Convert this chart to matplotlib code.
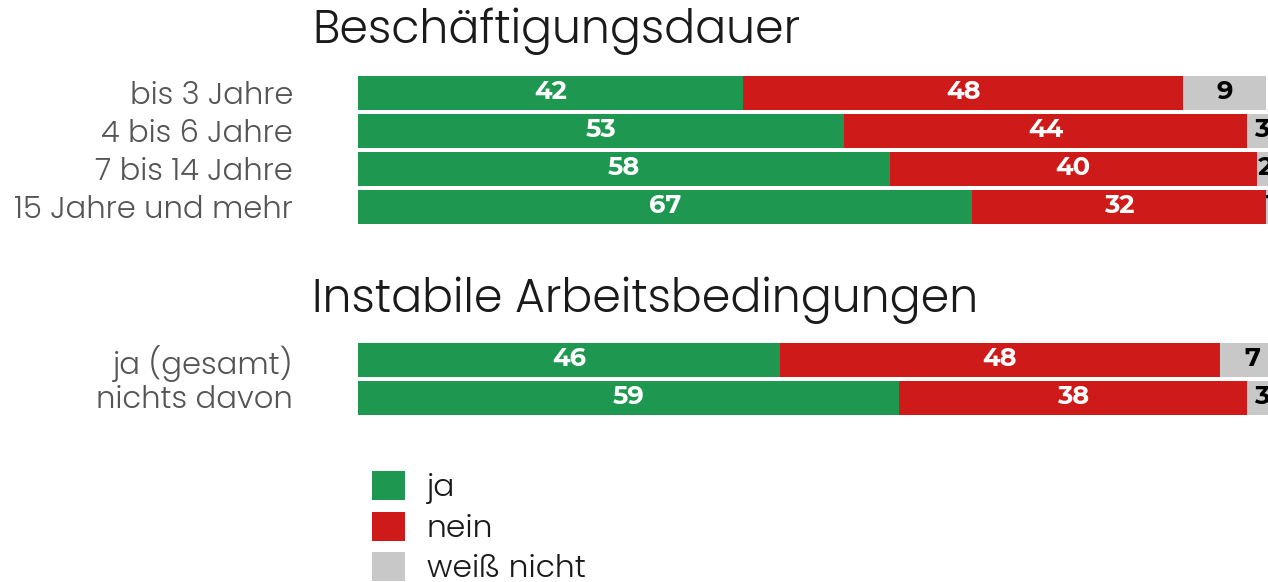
import matplotlib.pyplot as plt
from matplotlib.patches import Patch

# data
groups = ['Beschäftigungsdauer', 'Instabile Arbeitsbedingungen']
categories = [
    ['bis 3 Jahre', '4 bis 6 Jahre', '7 bis 14 Jahre', '15 Jahre und mehr'],
    ['ja (gesamt)', 'nichts davon'],
]
ja = [[42, 53, 58, 67], [46, 59]]
nein = [[48, 44, 40, 32], [48, 38]]
weiss_nicht = [[9, 3, 2, 1], [7, 3]]
series_names = ['ja', 'nein', 'weiß nicht']
colors = ['#1e9850', '#cf1a1a', '#c8c8c8']
text_colors = ['white', 'white', 'black']

W, H = 1268, 582
fig = plt.figure(figsize=(W / 100, H / 100), dpi=100)
ax = fig.add_axes([0, 0, 1, 1])
px_per_unit = 9.17
x0 = 358
ax.set_xlim(-x0 / px_per_unit, (W - x0) / px_per_unit)
ax.set_ylim(H, 0)
ax.axis('off')

font = 'Poppins'
num_font = 'Montserrat Alternates'
group_tops = [93, 360]   # centre of first bar per group (px)
title_y = [31, 300]
pitch = 38
bar_h = 34

for g, name in enumerate(groups):
    ax.text(312 / W, 1 - title_y[g] / H, name, transform=ax.transAxes,
            fontsize=33, family=font, fontweight=300, color='#1a1a1a',
            ha='left', va='center')
    ys = [group_tops[g] + i * pitch for i in range(len(categories[g]))]
    left = [0] * len(ys)
    for s, vals in enumerate([ja[g], nein[g], weiss_nicht[g]]):
        ax.barh(ys, vals, left=left, height=bar_h, color=colors[s], linewidth=0)
        for y, l, v in zip(ys, left, vals):
            ax.text(l + v / 2, y - 1, str(v), ha='center', va='center',
                    fontsize=18.5, family=num_font, fontweight='bold', color=text_colors[s])
        left = [a + b for a, b in zip(left, vals)]
    for y, lab in zip(ys, categories[g]):
        ax.text(293 / W, 1 - (y + 3) / H, lab, transform=ax.transAxes, ha='right', va='center',
                fontsize=22, family=font, fontweight=300, color='#555555')

handles = [Patch(facecolor=c, edgecolor='none') for c in colors]
leg = fig.legend(handles, series_names, loc='upper left',
                 bbox_to_anchor=(372 / W, 1 - 471 / H), frameon=False,
                 prop={'family': font, 'weight': 300, 'size': 22.5},
                 handlelength=1.05, handleheight=1.05, labelspacing=0.24,
                 handletextpad=0.7, borderpad=0, borderaxespad=0)
for t in leg.get_texts():
    t.set_color('#1a1a1a')

fig.savefig('out.png', dpi=100)
